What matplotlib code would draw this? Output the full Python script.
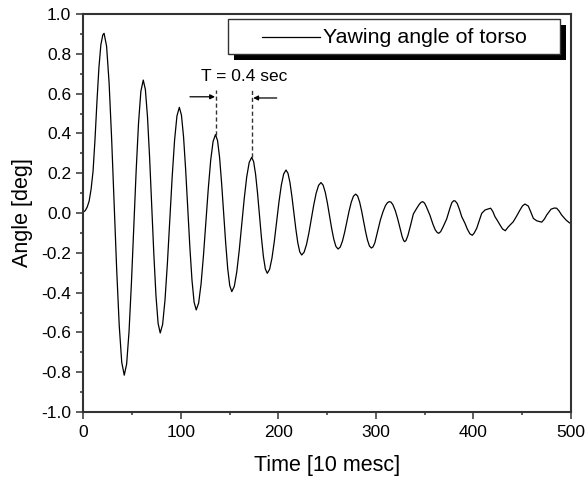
import matplotlib
matplotlib.use("Agg")
import matplotlib.pyplot as plt
from matplotlib.patches import Rectangle
from matplotlib.lines import Line2D
from matplotlib.ticker import MultipleLocator, FormatStrFormatter

plt.rcParams['font.family'] = ['Liberation Sans', 'DejaVu Sans']
plt.rcParams['axes.unicode_minus'] = False

# ---- data ----
time_10ms = [
    0, 2, 4, 6, 8, 10, 12, 14, 16, 18, 20, 21.3,
    23.89, 26.48, 29.06, 31.65, 34.24, 36.83, 39.41, 42.0,
    44.44, 46.88, 49.31, 51.75, 54.19, 56.63, 59.06, 61.5,
    63.68, 65.85, 68.03, 70.2, 72.38, 74.55, 76.73, 78.9,
    81.35, 83.8, 86.25, 88.7, 91.15, 93.6, 96.05, 98.5,
    100.66, 102.83, 104.99, 107.15, 109.31, 111.48, 113.64, 115.8,
    118.28, 120.75, 123.23, 125.7, 128.18, 130.65, 133.13, 135.6,
    137.69, 139.78, 141.86, 143.95, 146.04, 148.13, 150.21, 152.3,
    154.85, 157.4, 159.95, 162.5, 165.05, 167.6, 170.15, 172.7,
    174.7, 176.7, 178.7, 180.7, 182.7, 184.7, 186.7, 188.7,
    191.1, 193.5, 195.9, 198.3, 200.7, 203.1, 205.5, 207.9,
    209.91, 211.93, 213.94, 215.95, 217.96, 219.98, 221.99, 224.0,
    226.48, 228.95, 231.43, 233.9, 236.38, 238.85, 241.33, 243.8,
    245.99, 248.18, 250.36, 252.55, 254.74, 256.93, 259.11, 261.3,
    263.56, 265.83, 268.09, 270.35, 272.61, 274.88, 277.14, 279.4,
    281.41, 283.43, 285.44, 287.45, 289.46, 291.48, 293.49, 295.5,
    297.2, 299.0, 301.5, 304.7, 307.5, 310.0, 312.0, 313.8,
    315.5, 317.5, 320.0, 322.5, 325.0, 327.0, 328.5, 329.6,
    331.0, 333.0, 335.5, 338.5, 341.9, 344.5, 346.5, 348.1,
    350.0, 352.0, 355.6, 358.5, 361.0, 363.0, 364.5,
    366.5, 369.0, 372.7, 376.1, 378.0, 380.0,
    381.5, 383.5, 386.0, 388.1, 391.5, 394.0, 396.6, 399.0,
    401.0, 403.5, 406.0, 408.6, 412.0, 415.0, 417.8, 420.0, 422.2,
    425.0, 427.4, 430.0, 432.8, 436.0, 441.0, 444.5, 447.9, 450.5,
    453.0, 456.4, 459.0, 461.6, 465.0, 470.2, 473.0, 475.3, 479.7,
    483.0, 485.5, 488.0, 490.6, 495.1, 498.5, 500.0,
]
yaw_angle = [
    0.005, 0.012, 0.03, 0.06, 0.12, 0.21, 0.37, 0.56, 0.73, 0.845, 0.895, 0.903,
    0.838, 0.652, 0.373, 0.044, -0.285, -0.564, -0.750, -0.815,
    -0.759, -0.598, -0.357, -0.074, 0.210, 0.451, 0.612, 0.668,
    0.620, 0.482, 0.276, 0.033, -0.211, -0.417, -0.555, -0.603,
    -0.560, -0.437, -0.253, -0.036, 0.181, 0.365, 0.488, 0.531,
    0.492, 0.382, 0.217, 0.022, -0.173, -0.338, -0.448, -0.487,
    -0.453, -0.358, -0.215, -0.047, 0.122, 0.265, 0.360, 0.394,
    0.364, 0.279, 0.150, -0.001, -0.151, -0.280, -0.365, -0.395,
    -0.369, -0.296, -0.187, -0.058, 0.072, 0.181, 0.254, 0.280,
    0.258, 0.195, 0.100, -0.012, -0.123, -0.218, -0.281, -0.303,
    -0.283, -0.227, -0.143, -0.044, 0.056, 0.140, 0.196, 0.216,
    0.200, 0.154, 0.084, 0.003, -0.079, -0.149, -0.195, -0.211,
    -0.197, -0.158, -0.099, -0.029, 0.041, 0.100, 0.139, 0.153,
    0.140, 0.104, 0.050, -0.014, -0.078, -0.132, -0.168, -0.181,
    -0.171, -0.141, -0.096, -0.043, 0.010, 0.055, 0.085, 0.095,
    0.085, 0.055, 0.011, -0.041, -0.092, -0.136, -0.166, -0.176,
    -0.170, -0.150, -0.100, -0.035, 0.008, 0.038, 0.052, 0.057,
    0.055, 0.042, 0.012, -0.030, -0.080, -0.118, -0.138, -0.144,
    -0.138, -0.112, -0.065, -0.005, 0.023, 0.043, 0.054, 0.057,
    0.050, 0.030, -0.012, -0.055, -0.085, -0.098, -0.102,
    -0.094, -0.070, -0.030, 0.025, 0.052, 0.062,
    0.060, 0.048, 0.015, -0.018, -0.052, -0.082, -0.105, -0.112,
    -0.100, -0.077, -0.040, -0.002, 0.015, 0.020, 0.024, 0.008, -0.018,
    -0.040, -0.060, -0.080, -0.089, -0.069, -0.044, -0.015, 0.015, 0.036,
    0.045, 0.035, 0.005, -0.027, -0.039, -0.046, -0.030, -0.010, 0.019,
    0.025, 0.024, 0.010, -0.010, -0.035, -0.049, -0.052,
]

series_label = "Yawing angle of torso"
period_text = "T = 0.4 sec"
period_marks = [135.6, 173.5]        # x of the two marked peaks
period_mark_bottoms = [0.394, 0.280]  # peak values
xlabel = "Time [10 mesc]"
ylabel = "Angle [deg]"

# ---- figure ----
fig = plt.figure(figsize=(5.85, 4.83), dpi=100)
ax = fig.add_axes([0.1424, 0.1470, 0.8333, 0.8240])

ax.plot(time_10ms, yaw_angle, color='black', lw=0.9,
        solid_joinstyle='round', antialiased=True)

ax.set_xlim(0, 500)
ax.set_ylim(-1.0, 1.0)
ax.xaxis.set_major_locator(MultipleLocator(100))
ax.xaxis.set_minor_locator(MultipleLocator(50))
ax.yaxis.set_major_locator(MultipleLocator(0.2))
ax.yaxis.set_minor_locator(MultipleLocator(0.1))
ax.yaxis.set_major_formatter(FormatStrFormatter('%.1f'))

spine_col = '#333333'
for s in ax.spines.values():
    s.set_color(spine_col)
    s.set_linewidth(1.5)
ax.tick_params(which='both', direction='out', top=False, right=False,
               color=spine_col, labelsize=12.5)
ax.tick_params(which='major', length=4.8, width=1.1)
ax.tick_params(which='minor', length=2.4, width=1.1)
ax.tick_params(axis='x', pad=4.5)
ax.tick_params(axis='y', pad=4)

ax.set_xlabel(xlabel, fontsize=15.5, labelpad=11)
ax.set_ylabel(ylabel, fontsize=15.5, labelpad=6)

# period annotation
top_y = 0.62
for xm, yb in zip(period_marks, period_mark_bottoms):
    ax.plot([xm, xm], [yb, top_y], color='#333333', lw=1.0, dashes=(3, 2))
ax.annotate('', xy=(period_marks[0] - 0.5, 0.584), xytext=(109.4, 0.584),
            arrowprops=dict(arrowstyle='-|>', color='black', lw=0.9,
                            mutation_scale=7, shrinkA=0, shrinkB=0))
ax.annotate('', xy=(period_marks[1] + 0.8, 0.578), xytext=(198.4, 0.578),
            arrowprops=dict(arrowstyle='-|>', color='black', lw=0.9,
                            mutation_scale=7, shrinkA=0, shrinkB=0))
ax.text(121.0, 0.665, period_text, fontsize=12.5, ha='left', va='baseline')

# legend box with shadow (drawn manually)
ax.add_patch(Rectangle((0.3085, 0.8844), 0.6817, 0.0880, transform=ax.transAxes,
                       facecolor='black', edgecolor='none', zorder=5, clip_on=False))
ax.add_patch(Rectangle((0.2962, 0.8995), 0.6816, 0.0879, transform=ax.transAxes,
                       facecolor='white', edgecolor='#333333', lw=1.0, zorder=6,
                       clip_on=False))
ax.add_line(Line2D([0.3660, 0.4855], [0.943, 0.943], transform=ax.transAxes,
                   color='black', lw=0.9, zorder=7))
ax.text(0.4923, 0.9264, series_label, transform=ax.transAxes, fontsize=15.4,
        ha='left', va='baseline', zorder=7)

fig.savefig('out.png', dpi=100)
